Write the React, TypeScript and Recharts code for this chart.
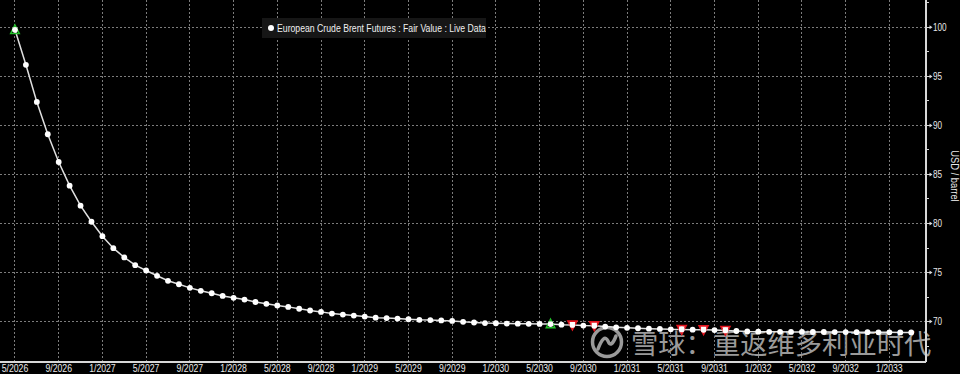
import React from 'react';
import { LineChart, Line, XAxis, YAxis, CartesianGrid } from 'recharts';

const seriesName = 'European Crude Brent Futures : Fair Value : Live Data';
const startMonth = 5;
const startYear = 2026;

const prices: number[] = [
  99.75, 96.18, 92.4, 89.1, 86.27, 83.86, 81.82, 80.18, 78.71, 77.49,
  76.54, 75.75, 75.21, 74.67, 74.16, 73.81, 73.44, 73.14, 72.89, 72.62,
  72.42, 72.25, 72.0, 71.81, 71.64, 71.5, 71.31, 71.13, 70.99, 70.82,
  70.72, 70.61, 70.51, 70.4, 70.36, 70.31, 70.24, 70.18, 70.15, 70.12,
  70.07, 69.98, 69.91, 69.85, 69.83, 69.8, 69.79, 69.77, 69.76, 69.75,
  69.69, 69.66, 69.59, 69.57, 69.49, 69.42, 69.36, 69.32, 69.28, 69.25,
  69.21, 69.2, 69.18, 69.16, 69.14, 69.1, 69.04, 68.99, 68.97, 68.96,
  68.96, 68.95, 68.95, 68.94, 68.94, 68.93, 68.93, 68.92, 68.92, 68.91,
  68.91, 68.9, 68.9,
];

const upMarkers: number[] = [0, 49];
const downMarkers: number[] = [51, 53, 61, 63, 65];

const xTickIndexes: number[] = [0, 4, 8, 12, 16, 20, 24, 28, 32, 36, 40, 44, 48, 52, 56, 60, 64, 68, 72, 76, 80];
const xTickLabels: string[] = [
  '5/2026', '9/2026', '1/2027', '5/2027', '9/2027', '1/2028', '5/2028', '9/2028',
  '1/2029', '5/2029', '9/2029', '1/2030', '5/2030', '9/2030', '1/2031', '5/2031',
  '9/2031', '1/2032', '5/2032', '9/2032', '1/2033',
];
const yMajorTicks: number[] = [70, 75, 80, 85, 90, 95, 100];
const yMinorTicks: number[] = [67.5, 72.5, 77.5, 82.5, 87.5, 92.5, 97.5, 102.5];

const watermark = '雪球：重返维多利亚时代';

const data = prices.map((p, i) => ({
  i,
  month: `${((startMonth - 1 + i) % 12) + 1}/${startYear + Math.floor((startMonth - 1 + i) / 12)}`,
  price: p,
}));

const FONT = "'Liberation Sans', Arial, sans-serif";
const NARROW = 0.82;
const GRID = '#7c7c7c';
const AXIS = '#d8d8d8';
const TEXT = '#e8e8e8';

const Dot = (props: any) => {
  const { cx, cy, index } = props;
  if (cx == null || cy == null) return null;
  const up = upMarkers.includes(index);
  const down = downMarkers.includes(index);
  return (
    <g key={`d${index}`}>
      {up && (
        <polygon
          points={`${cx},${cy - 4.8} ${cx + 4.3},${cy + 3.6} ${cx - 4.3},${cy + 3.6}`}
          fill="none"
          stroke="#22c02a"
          strokeWidth={1.5}
        />
      )}
      {down && (
        <polygon
          points={`${cx - 4.4},${cy - 3.9} ${cx + 4.4},${cy - 3.9} ${cx},${cy + 4.6}`}
          fill="#ffffff"
          stroke="#e3141e"
          strokeWidth={1.7}
        />
      )}
      <circle cx={cx} cy={cy} r={2.9} fill="#ffffff" />
    </g>
  );
};

const XTick = (props: any) => {
  const { x, y, payload } = props;
  const label = xTickLabels[xTickIndexes.indexOf(payload.value)] ?? '';
  return (
    <text
      transform={`translate(${x},${y + 10}) scale(${NARROW},1)`}
      textAnchor="middle"
      fill={TEXT}
      fontSize={10.6}
      fontFamily={FONT}
    >
      {label}
    </text>
  );
};

const YTick = (props: any) => {
  const { x, y, payload } = props;
  const v = payload.value;
  const major = yMajorTicks.includes(v);
  return (
    <g>
      {major ? (
        <>
          <line x1={x} x2={x + 4} y1={y} y2={y} stroke={AXIS} strokeWidth={1} shapeRendering="crispEdges" />
          <polygon points={`${x + 3.5},${y - 2} ${x + 6.5},${y} ${x + 3.5},${y + 2}`} fill={AXIS} />
          <text
            transform={`translate(${x + 7},${y + 3.6}) scale(${NARROW},1)`}
            fill={TEXT}
            fontSize={10}
            fontFamily={FONT}
          >
            {v}
          </text>
        </>
      ) : (
        <line x1={x} x2={x + 3} y1={y} y2={y} stroke={AXIS} strokeWidth={1} shapeRendering="crispEdges" />
      )}
    </g>
  );
};

const YLabel = () => (
  <text
    transform={`translate(955,176) rotate(90) scale(0.85,1)`}
    textAnchor="middle"
    dominantBaseline="central"
    fill={TEXT}
    fontSize={11}
    fontFamily={FONT}
  >
    USD / barrel
  </text>
);

export default function App() {
  return (
    <div style={{ position: 'fixed', left: 0, top: 0, width: 960, height: 374, background: '#000', overflow: 'hidden' }}>
      <div style={{ position: 'absolute', left: 588, top: 324, display: 'flex', alignItems: 'center' }}>
        <svg width={38} height={36} viewBox="-19 -18 38 36">
          <circle cx={0} cy={0} r={14.5} fill="none" stroke="#9a9a9a" strokeWidth={3.5} />
          <path d="M -9 7 Q -3 -9 1 -1 Q 4 7 9 -6" fill="none" stroke="#9a9a9a" strokeWidth={3.5} strokeLinecap="round" />
        </svg>
        <span
          style={{
            marginLeft: 5,
            fontFamily: "'Noto Sans CJK SC', sans-serif",
            fontSize: 27.3,
            lineHeight: '30px',
            color: '#9a9a9a',
            whiteSpace: 'nowrap',
          }}
        >
          {watermark}
        </span>
      </div>
      <div style={{ position: 'absolute', left: 0, top: 0 }}>
        <LineChart width={960} height={374} data={data} margin={{ top: 0, right: 0, bottom: 0, left: 0 }}>
          <CartesianGrid
            stroke={GRID}
            strokeDasharray="2 2"
            shapeRendering="crispEdges"
            horizontalValues={yMajorTicks}
            verticalValues={xTickIndexes}
          />
          <XAxis
            dataKey="i"
            type="number"
            domain={[-1.37, 83.35]}
            ticks={xTickIndexes}
            interval={0}
            height={12}
            tickSize={0}
            tickMargin={0}
            tickLine={false}
            axisLine={{ stroke: AXIS, strokeWidth: 1.3, shapeRendering: 'crispEdges' }}
            tick={<XTick />}
            allowDataOverflow
          />
          <YAxis
            orientation="right"
            type="number"
            domain={[65.88, 102.79]}
            ticks={[...yMinorTicks, ...yMajorTicks].sort((a, b) => a - b)}
            interval={0}
            width={34}
            tickSize={0}
            tickMargin={0}
            tickLine={false}
            axisLine={{ stroke: AXIS, strokeWidth: 1.3, shapeRendering: 'crispEdges' }}
            tick={<YTick />}
            label={<YLabel />}
            allowDataOverflow
          />
          <Line
            type="linear"
            dataKey="price"
            name={seriesName}
            stroke="#e0e0e0"
            strokeWidth={1.5}
            dot={<Dot />}
            activeDot={false}
            isAnimationActive={false}
          />
        </LineChart>
      </div>
      <svg style={{ position: 'absolute', left: 262, top: 18 }} width={224} height={20}>
        <rect x={0} y={0} width={224} height={20} fill="#161616" />
        <circle cx={9} cy={10} r={3} fill="#ffffff" />
        <text
          transform="translate(15,13.8) scale(0.82,1)"
          fill="#f0f0f0"
          fontSize={10.6}
          fontFamily={FONT}
        >
          {seriesName}
        </text>
      </svg>
    </div>
  );
}
